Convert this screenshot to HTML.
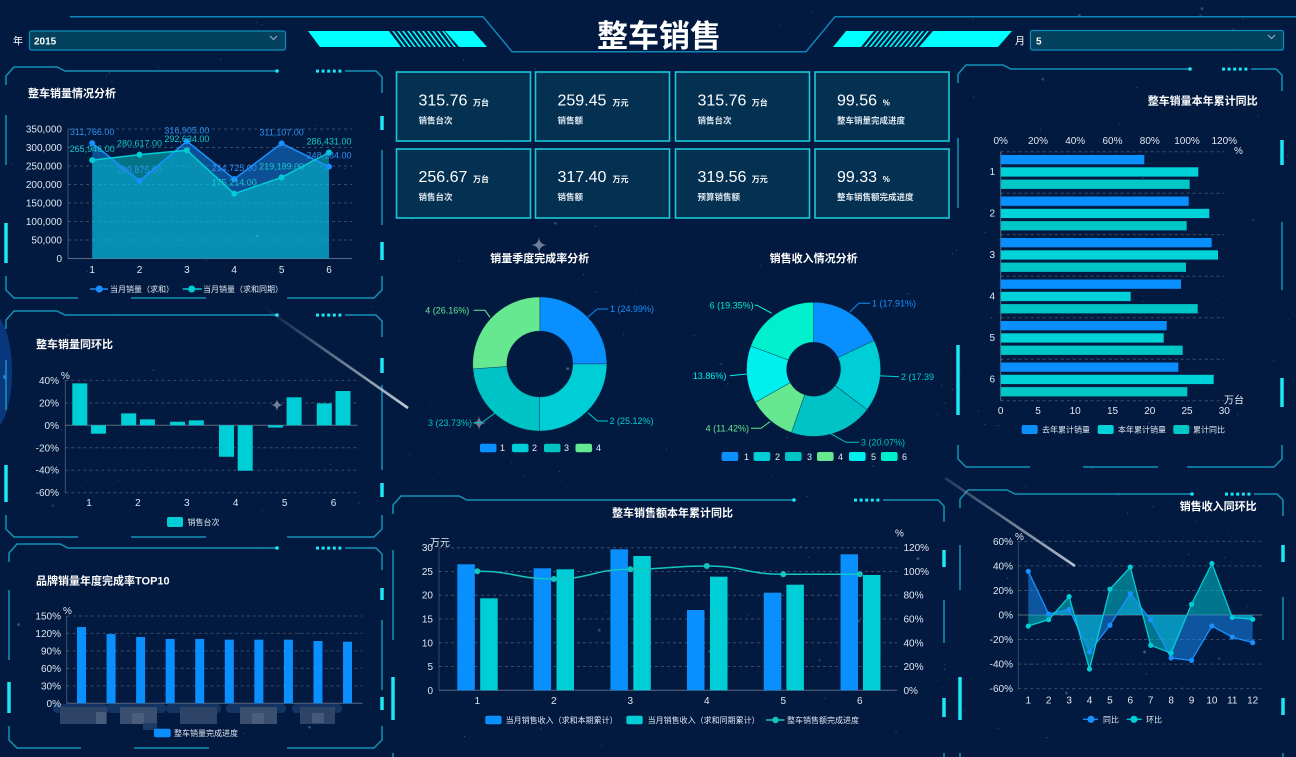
<!DOCTYPE html>
<html><head><meta charset="utf-8">
<style>
html,body{margin:0;padding:0;width:1296px;height:757px;overflow:hidden;background:#021a3f}
svg{display:block}
text{font-family:"Liberation Sans","Noto Sans CJK SC",sans-serif}
.t{fill:#fff;font-weight:bold;font-size:11px}
.ax{fill:#dfe7f1;font-size:10px}
.lg{fill:#dfe7f1;font-size:8px}
.num{fill:#fff;font-size:16px}
.u{fill:#fff;font-size:8px;font-weight:bold}
.kl{fill:#dde6ee;font-size:8.5px;font-weight:bold}
.dl{font-size:9px}
</style></head><body>
<svg id="svg" width="1296" height="757" viewBox="0 0 1296 757" xmlns="http://www.w3.org/2000/svg">
<defs>
<linearGradient id="st1" gradientUnits="userSpaceOnUse" x1="262" y1="306" x2="408" y2="408">
<stop offset="0" stop-color="#dfe6f0" stop-opacity="0"/><stop offset="1" stop-color="#dfe6f0" stop-opacity="0.85"/></linearGradient>
<linearGradient id="st2" gradientUnits="userSpaceOnUse" x1="945" y1="478" x2="1075" y2="566">
<stop offset="0" stop-color="#dfe6f0" stop-opacity="0.15"/><stop offset="1" stop-color="#dfe6f0" stop-opacity="0.8"/></linearGradient>
</defs>
<rect width="1296" height="757" fill="#021a3f"/>
<g id="bg"></g>
<g id="g"></g>
<g id="txt">
<!-- header -->
<text x="659" y="47" text-anchor="middle" font-size="31" font-weight="bold" fill="#fff">整车销售</text>
<text x="13" y="44.5" font-size="10" fill="#fff">年</text>
<text x="34" y="44.5" font-size="10" font-weight="bold" fill="#fff">2015</text>
<text x="1015" y="44.5" font-size="10" fill="#fff">月</text>
<text x="1036" y="44.5" font-size="10" font-weight="bold" fill="#fff">5</text>

<!-- panel titles -->
<text class="t" x="28" y="97">整车销量情况分析</text>
<text class="t" x="36" y="348">整车销量同环比</text>
<text class="t" x="36" y="584.5">品牌销量年度完成率TOP10</text>
<text class="t" x="1257.7" y="104.5" text-anchor="end">整车销量本年累计同比</text>
<text class="t" x="672.5" y="516.5" text-anchor="middle">整车销售额本年累计同比</text>
<text class="t" x="1256.7" y="510" text-anchor="end">销售收入同环比</text>
<text class="t" x="539.8" y="262" text-anchor="middle">销量季度完成率分析</text>
<text class="t" x="813.6" y="262" text-anchor="middle">销售收入情况分析</text>

<!-- chart1 axes -->
<g class="ax" text-anchor="end">
<text x="62" y="132.5">350,000</text><text x="62" y="151">300,000</text><text x="62" y="169.5">250,000</text>
<text x="62" y="188">200,000</text><text x="62" y="206.5">150,000</text><text x="62" y="225">100,000</text>
<text x="62" y="243.5">50,000</text><text x="62" y="262">0</text>
</g>
<g class="ax" text-anchor="middle">
<text x="92.2" y="273">1</text><text x="139.5" y="273">2</text><text x="186.9" y="273">3</text>
<text x="234.2" y="273">4</text><text x="281.6" y="273">5</text><text x="329" y="273">6</text>
</g>
<g class="dl" text-anchor="middle">
<text x="92.2" y="135.2" fill="#2b8ff0">311,766.00</text>
<text x="92.2" y="152.1" fill="#12c8c8">265,946.00</text>
<text x="139.5" y="146.7" fill="#12c8c8">280,617.00</text>
<text x="139.5" y="172.9" fill="#2b8ff0">209,875.00</text>
<text x="186.9" y="133.3" fill="#2b8ff0">316,905.00</text>
<text x="186.9" y="142.2" fill="#12c8c8">292,634.00</text>
<text x="234.2" y="171" fill="#2b8ff0">214,725.00</text>
<text x="234.2" y="185.7" fill="#12c8c8">175,214.00</text>
<text x="281.6" y="135.4" fill="#2b8ff0">311,107.00</text>
<text x="281.6" y="169.4" fill="#12c8c8">219,189.00</text>
<text x="329" y="144.5" fill="#12c8c8">286,431.00</text>
<text x="329" y="158.7" fill="#2b8ff0">248,184.00</text>
</g>
<text class="lg" x="110" y="292">当月销量（求和）</text>
<text class="lg" x="203" y="292">当月销量（求和同期）</text>

<!-- chart2 axes -->
<text class="ax" x="61" y="379" font-size="9">%</text>
<g class="ax" text-anchor="end">
<text x="59" y="383.8">40%</text><text x="59" y="406.3">20%</text><text x="59" y="428.8">0%</text>
<text x="59" y="451.3">-20%</text><text x="59" y="473.7">-40%</text><text x="59" y="496.2">-60%</text>
</g>
<g class="ax" text-anchor="middle">
<text x="89" y="506">1</text><text x="137.9" y="506">2</text><text x="186.8" y="506">3</text>
<text x="235.7" y="506">4</text><text x="284.6" y="506">5</text><text x="333.5" y="506">6</text>
</g>
<text class="lg" x="187.5" y="525">销售台次</text>

<!-- chart3 axes -->
<text class="ax" x="63" y="614" font-size="9">%</text>
<g class="ax" text-anchor="end">
<text x="61" y="619.5">150%</text><text x="61" y="637">120%</text><text x="61" y="654.5">90%</text>
<text x="61" y="671.9">60%</text><text x="61" y="689.4">30%</text><text x="61" y="706.8">0%</text>
</g>
<text class="lg" x="174" y="736">整车销量完成进度</text>

<!-- KPI -->
<text class="num" x="418.5" y="105.5">315.76</text><text class="u" x="473" y="105.5">万台</text><text class="kl" x="418.5" y="123.5">销售台次</text>
<text class="num" x="557.5" y="105.5">259.45</text><text class="u" x="612.5" y="105.5">万元</text><text class="kl" x="557.5" y="123.5">销售额</text>
<text class="num" x="697.5" y="105.5">315.76</text><text class="u" x="751.8" y="105.5">万台</text><text class="kl" x="697.5" y="123.5">销售台次</text>
<text class="num" x="837" y="105.5">99.56</text><text class="u" x="882.7" y="105.5">%</text><text class="kl" x="837" y="123.5">整车销量完成进度</text>
<text class="num" x="418.5" y="182">256.67</text><text class="u" x="473" y="182">万台</text><text class="kl" x="418.5" y="200">销售台次</text>
<text class="num" x="557.5" y="182">317.40</text><text class="u" x="612.5" y="182">万元</text><text class="kl" x="557.5" y="200">销售额</text>
<text class="num" x="697.5" y="182">319.56</text><text class="u" x="751.8" y="182">万元</text><text class="kl" x="697.5" y="200">预算销售额</text>
<text class="num" x="837" y="182">99.33</text><text class="u" x="882.7" y="182">%</text><text class="kl" x="837" y="200">整车销售额完成进度</text>

<!-- donut labels -->
<g class="dl">
<text x="610" y="312" fill="#1890ff">1 (24.99%)</text>
<text x="609.5" y="424" fill="#00ced6">2 (25.12%)</text>
<text x="472" y="426" fill="#00c3c6" text-anchor="end">3 (23.73%)</text>
<text x="469.3" y="313.5" fill="#66e890" text-anchor="end">4 (26.16%)</text>
<text x="872" y="306.5" fill="#1890ff">1 (17.91%)</text>
<text x="901" y="380" fill="#00ced6">2 (17.39</text>
<text x="861" y="445.5" fill="#00c3c6">3 (20.07%)</text>
<text x="749" y="431.5" fill="#66e890" text-anchor="end">4 (11.42%)</text>
<text x="726.4" y="379" fill="#00f0f0" text-anchor="end">13.86%)</text>
<text x="753.6" y="308.5" fill="#00f0cc" text-anchor="end">6 (19.35%)</text>
</g>
<g fill="#e6eef5" font-size="9">
<text x="500" y="451">1</text><text x="532" y="451">2</text><text x="564" y="451">3</text><text x="596" y="451">4</text>
<text x="744" y="460">1</text><text x="775" y="460">2</text><text x="807" y="460">3</text><text x="838" y="460">4</text><text x="871" y="460">5</text><text x="902" y="460">6</text>
</g>

<!-- right top -->
<g class="ax" text-anchor="middle">
<text x="1000.7" y="144">0%</text><text x="1038" y="144">20%</text><text x="1075.2" y="144">40%</text>
<text x="1112.5" y="144">60%</text><text x="1149.8" y="144">80%</text><text x="1187" y="144">100%</text><text x="1224.3" y="144">120%</text>
<text x="1000.7" y="414">0</text><text x="1038" y="414">5</text><text x="1075.2" y="414">10</text>
<text x="1112.5" y="414">15</text><text x="1149.8" y="414">20</text><text x="1187" y="414">25</text><text x="1224.3" y="414">30</text>
</g>
<text class="ax" x="1234" y="154" font-size="9">%</text>
<text class="ax" x="1224" y="403.5" font-size="9">万台</text>
<g class="ax" text-anchor="middle" font-size="11">
<text x="992.3" y="175">1</text><text x="992.3" y="216.5">2</text><text x="992.3" y="258">3</text>
<text x="992.3" y="299.5">4</text><text x="992.3" y="341">5</text><text x="992.3" y="382.5">6</text>
</g>
<text class="lg" x="1042" y="432.5">去年累计销量</text>
<text class="lg" x="1118" y="432.5">本年累计销量</text>
<text class="lg" x="1193" y="432.5">累计同比</text>

<!-- bottom center -->
<text class="ax" x="430" y="546" font-size="8.5">万元</text>
<text class="ax" x="895" y="536.5" font-size="9">%</text>
<g class="ax" text-anchor="end">
<text x="433" y="551.2">30</text><text x="433" y="575">25</text><text x="433" y="598.7">20</text>
<text x="433" y="622.5">15</text><text x="433" y="646.3">10</text><text x="433" y="670">5</text><text x="433" y="693.8">0</text>
</g>
<g class="ax">
<text x="903.5" y="551.2">120%</text><text x="903.5" y="575">100%</text><text x="903.5" y="598.7">80%</text>
<text x="903.5" y="622.5">60%</text><text x="903.5" y="646.3">40%</text><text x="903.5" y="670">20%</text><text x="903.5" y="693.8">0%</text>
</g>
<g class="ax" text-anchor="middle">
<text x="477.3" y="704">1</text><text x="553.8" y="704">2</text><text x="630.3" y="704">3</text>
<text x="706.8" y="704">4</text><text x="783.3" y="704">5</text><text x="859.8" y="704">6</text>
</g>
<text class="lg" x="505.6" y="723">当月销售收入（求和本期累计）</text>
<text class="lg" x="647.6" y="723">当月销售收入（求和同期累计）</text>
<text class="lg" x="787" y="723">整车销售额完成进度</text>

<!-- bottom right -->
<text class="ax" x="1015" y="540" font-size="9">%</text>
<g class="ax" text-anchor="end">
<text x="1013" y="544.9">60%</text><text x="1013" y="569.4">40%</text><text x="1013" y="594">20%</text>
<text x="1013" y="618.5">0%</text><text x="1013" y="643.1">-20%</text><text x="1013" y="667.6">-40%</text><text x="1013" y="692.2">-60%</text>
</g>
<g class="ax" text-anchor="middle">
<text x="1028.3" y="703.5">1</text><text x="1048.7" y="703.5">2</text><text x="1069.1" y="703.5">3</text>
<text x="1089.5" y="703.5">4</text><text x="1109.9" y="703.5">5</text><text x="1130.3" y="703.5">6</text>
<text x="1150.7" y="703.5">7</text><text x="1171.1" y="703.5">8</text><text x="1191.5" y="703.5">9</text>
<text x="1211.9" y="703.5">10</text><text x="1232.3" y="703.5">11</text><text x="1252.7" y="703.5">12</text>
</g>
<text class="lg" x="1103" y="722.3">同比</text>
<text class="lg" x="1146" y="722.3">环比</text>
</g>
</svg>
<script>
(function(){
const NS='http://www.w3.org/2000/svg';
const G=document.getElementById('g'), BG=document.getElementById('bg');
function E(p,t,a){const e=document.createElementNS(NS,t);for(const k in a)e.setAttribute(k,a[k]);p.appendChild(e);return e;}
function L(x1,y1,x2,y2,s,w,da,p){return E(p||G,'line',{x1:x1,y1:y1,x2:x2,y2:y2,stroke:s,'stroke-width':w||1,'stroke-dasharray':da||'none'});}
function R(x,y,w,h,f,p,rx){return E(p||G,'rect',{x:x,y:y,width:w,height:h,fill:f,rx:rx||0});}
function P(d,f,s,w,p,extra){const a={d:d,fill:f||'none',stroke:s||'none','stroke-width':w||1};if(extra)for(const k in extra)a[k]=extra[k];return E(p||G,'path',a);}
function C(cx,cy,r,f,p){return E(p||G,'circle',{cx:cx,cy:cy,r:r,fill:f});}
const GRID='rgba(255,255,255,0.22)', AXL='rgba(255,255,255,0.35)';
const BLUE='#0a8fff',TEAL='#00ced6',TEAL2='#00c3c6',GREEN='#66e890',CYAN='#00f0f0',AQUA='#00f0cc';

// stars
let seed=7;function rnd(){seed=(seed*16807)%2147483647;return seed/2147483647;}
for(let i=0;i<260;i++){C(rnd()*1296,rnd()*757,rnd()<0.9?0.6:1.4,'rgba(140,190,230,'+(0.12+rnd()*0.3).toFixed(2)+')',BG);}
// left glow
E(BG,'ellipse',{cx:-8,cy:372,rx:20,ry:58,fill:'#0a3d8a',opacity:0.85});
C(5,377,2,'#2f7fe0',BG);

// header
P('M70,16.7 L483,16.7 L512,51.7 L806,51.7 L835,16.7 L1296,16.7','none','#0f86b8',1.5);
R(29.5,31,256,19,'#03415e',G,2); E(G,'rect',{x:29.5,y:31,width:256,height:19,rx:2,fill:'none',stroke:'#0d8dc0','stroke-width':1.2});
R(1030.5,30.5,253,19.5,'#03415e',G,2); E(G,'rect',{x:1030.5,y:30.5,width:253,height:19.5,rx:2,fill:'none',stroke:'#0d8dc0','stroke-width':1.2});
P('M270,36 L273.5,39.5 L277,36','none','#9fb3c8',1);
P('M1268,35 L1271.5,38.5 L1275,35','none','#9fb3c8',1);
const CY='#00ffff';
P('M308,31 L389,31 L401,47 L320,47 Z',CY);
for(let k=0;k<11;k++){const x=392+5*k;P(`M${x},31 L${x+2},31 L${x+14},47 L${x+12},47 Z`,CY);}
P('M445,31 L473,31 L487,47 L459,47 Z',CY);
P('M846,31 L874,31 L861,47 L833,47 Z',CY);
for(let k=0;k<11;k++){const x=877+5*k;P(`M${x},31 L${x+2},31 L${x-11},47 L${x-13},47 Z`,CY);}
P('M933,31 L1012,31 L998,47 L919,47 Z',CY);

// frames
function frame(x1,y1,x2,y2,o){
 const c='#1592b6',cb='#1de6f6';
 P(`M${x1},${y1+18} L${x1},${y1+9} L${x1+8},${y1} L${o.a},${y1} L${o.a+8},${y1+4} L${o.d},${y1+4}`,'none',c,1.5);
 C(o.d,y1+4,1.8,cb);
 for(let i=0;i<5;i++) R(o.ds+i*5.6,y1+2.6,3,3,cb);
 P(`M${o.ds+29},${y1+4} L${x2-6},${y1+4} L${x2},${y1+10} L${x2},${y1+26}`,'none',c,1.5);
 (o.lt||[]).forEach(s=>L(x1,s[0],x1,s[1],c,1.5));
 (o.rt||[]).forEach(s=>L(x2,s[0],x2,s[1],c,1.5));
 (o.lb||[]).forEach(s=>L(x1,s[0],x1,s[1],cb,3.5));
 (o.rb||[]).forEach(s=>L(x2,s[0],x2,s[1],cb,3.5));
 P(`M${x1},${y2-22} L${x1},${y2-8} L${x1+8},${y2} L${x1+72},${y2}`,'none',c,1.5);
 L(x1+125,y2,x1+200,y2,c,1.5);
 P(`M${x2-95},${y2} L${x2-8},${y2} L${x2},${y2-8} L${x2},${y2-22}`,'none',c,1.5);
}
frame(6,67,382,298,{a:57,d:277,ds:316,lb:[[223,263]],lt:[[115,165]],rb:[[116,130],[242,260]],rt:[[150,225]]});
frame(6,311,382,537,{a:57,d:277,ds:316,lb:[[465,502]],lt:[[360,410]],rb:[[358,373],[483,497]],rt:[[385,470]]});
frame(9,544,382,748,{a:60,d:277,ds:316,lb:[[682,713]],lt:[[590,660]],rb:[[588,600],[697,710]],rt:[[620,690]]});
frame(958,65,1282,467,{a:1003,d:1190,ds:1222,lb:[[345,415]],lt:[[138,208]],rb:[[140,165],[378,407]],rt:[[222,290]]});
frame(393,496,944,775,{a:459,d:794,ds:854,lb:[[677,720]],lt:[[550,640]],rb:[[550,567],[698,717]],rt:[[600,643]]});
frame(960,490,1283,775,{a:1007,d:1192,ds:1225,lb:[[677,720]],lt:[[545,590]],rb:[[545,562],[698,715]],rt:[[597,640]]});

// streaks & sparkles
L(262,306,408,408,'url(#st1)',2.6);
L(945,478,1075,566,'url(#st2)',2.6);
function spark(x,y,s){P(`M${x-s},${y} Q${x},${y} ${x},${y-s} Q${x},${y} ${x+s},${y} Q${x},${y} ${x},${y+s} Q${x},${y} ${x-s},${y} Z`,'rgba(200,210,225,0.55)');}
spark(539,245,9); spark(479,423,8); spark(277,405,7);

function area(xs,ys,base,fill,op){let d='M'+xs[0]+','+base;xs.forEach((x,i)=>d+=' L'+x+','+ys[i]);d+=' L'+xs[xs.length-1]+','+base+' Z';P(d,fill,null,0,G,{'fill-opacity':op});}
function poly(xs,ys,s,w){let d='';xs.forEach((x,i)=>d+=(i?' L':'M')+x+','+ys[i]);P(d,'none',s,w);}

// chart1
(function(){
 const X=i=>92.2+47.35*i, Y=v=>258.5-v*129.5/350000;
 for(let k=1;k<=7;k++) L(68,Y(k*50000),352,Y(k*50000),GRID,1,'3,3');
 L(68,258.5,352,258.5,AXL,1); L(68,129,68,258.5,'rgba(255,255,255,0.25)',1);
 const A=[311766,209875,316905,214725,311107,248184],B=[265946,280617,292634,175214,219189,286431];
 const xs=A.map((v,i)=>X(i));
 area(xs,A.map(Y),258.5,'#1890ff',0.45);
 area(xs,B.map(Y),258.5,'#00d0d0',0.5);
 poly(xs,A.map(Y),'#1890ff',1.5); poly(xs,B.map(Y),'#00ced6',1.5);
 xs.forEach((x,i)=>{C(x,Y(A[i]),3,'#1890ff');C(x,Y(B[i]),3,'#00ced6');});
 L(90,289,108,289,'#1890ff',1.5); C(99.3,289,3.5,'#1890ff');
 L(182.7,289,201.7,289,'#00ced6',1.5); C(191.7,289,3.5,'#00ced6');
})();

// chart2
(function(){
 const Y=p=>425.3-p*1.124;
 [40,20,-20,-40,-60].forEach(p=>L(65.3,Y(p),357.7,Y(p),GRID,1,'3,3'));
 L(65.3,425.3,357.7,425.3,AXL,1); L(65.3,380,65.3,493,'rgba(255,255,255,0.25)',1);
 const V=[[37.3,-7.5],[10.6,5.3],[3.2,4.4],[-28,-40.4],[-2,24.9],[19.5,30.5]];
 V.forEach((pr,i)=>{pr.forEach((v,j)=>{const x=(j?91:72.3)+i*48.9;const y0=Y(Math.max(v,0)),h=Math.abs(v)*1.124;R(x,y0,15,h,TEAL);});});
 R(167,517,16,10,TEAL,G,2);
})();

// chart3
(function(){
 const Y=p=>703.3-p*0.5822;
 [30,60,90,120,150].forEach(p=>L(66.7,Y(p),362.3,Y(p),GRID,1,'3,3'));
 L(66.7,703.3,362.3,703.3,AXL,1); L(66.7,616,66.7,703.3,'rgba(255,255,255,0.25)',1);
 const V=[131,119,113.8,110.4,110.4,109.3,109.3,109.3,107,105.8];
 V.forEach((v,i)=>{const c=81.5+29.56*i;R(c-4.5,Y(v),9,v*0.5822,BLUE);});
 [[53,704,55,9],[106,704,60,9],[166,704,55,9],[226,704,60,9],[292,704,50,9]].forEach(b=>R(b[0],b[1],b[2],b[3],'#143463',G,4));
 [[60,707,47,17,'#2e4466'],[120,707,37,17,'#3a4f70'],[180,707,37,17,'#2e4466'],[240,707,37,17,'#3a4f70'],[300,707,35,17,'#2e4466'],
  [96,712,10,12,'#475b7a'],[132,713,12,11,'#4a5e7c'],[252,713,12,11,'#4a5e7c'],[312,713,12,10,'#47597a'],[143,723,14,7,'#1e3a66']].forEach(b=>R(b[0],b[1],b[2],b[3],b[4]));
 R(154,728.7,16.7,8.6,BLUE,G,2);
})();

// KPI cards
[396.5,535.5,675.5,815].forEach(x=>{[72,149].forEach(y=>{E(G,'rect',{x:x,y:y,width:134,height:69,fill:'#043052',stroke:'#19c8d8','stroke-width':1.6});});});

// donuts
function arc(cx,cy,r0,r1,a0,a1){
 const rad=a=>(a-90)*Math.PI/180, pt=(r,a)=>[cx+r*Math.cos(rad(a)),cy+r*Math.sin(rad(a))];
 const lg=(a1-a0)>180?1:0;const p0=pt(r1,a0),p1=pt(r1,a1),p2=pt(r0,a1),p3=pt(r0,a0);
 return `M${p0[0]},${p0[1]} A${r1},${r1} 0 ${lg} 1 ${p1[0]},${p1[1]} L${p2[0]},${p2[1]} A${r0},${r0} 0 ${lg} 0 ${p3[0]},${p3[1]} Z`;
}
function donut(cx,cy,r0,r1,vals,cols){let a=0;vals.forEach((v,i)=>{const b=a+v*3.6;P(arc(cx,cy,r0,r1,a,b),cols[i],'rgba(2,40,70,0.6)',0.6);a=b;});}
donut(539.8,364,33,67,[24.99,25.12,23.73,26.16],[BLUE,TEAL,TEAL2,GREEN]);
donut(813.6,369.3,27,67,[17.91,17.39,20.07,11.42,13.86,19.35],[BLUE,TEAL,TEAL2,GREEN,CYAN,AQUA]);
function lead(pts,c){let d='';pts.forEach((p,i)=>d+=(i?' L':'M')+p[0]+','+p[1]);P(d,'none',c,1);}
lead([[588,317],[597.3,309],[608,309]],BLUE);
lead([[588,412.7],[597.3,421],[608,421]],TEAL);
lead([[495.5,412.7],[482,422.5],[474,422.5]],TEAL2);
lead([[490,317.3],[485,310.3],[473.6,310.3]],GREEN);
lead([[850,311.7],[859,303.3],[870,303.3]],BLUE);
lead([[879,375.7],[899,376.7]],TEAL);
lead([[830,433.3],[846,442.3],[859,442.3]],TEAL2);
lead([[770,421.7],[761,428.3],[751,428.3]],GREEN);
lead([[746.4,374],[730,375.7]],CYAN);
lead([[771.8,313.3],[757,305.3],[754.7,305.3]],AQUA);
[[480,BLUE],[512,TEAL],[544,TEAL2],[575.5,GREEN]].forEach(r=>R(r[0],443.7,16.5,8.6,r[1],G,2));
[[721.6,BLUE],[753.6,TEAL],[785,TEAL2],[817,GREEN],[849,CYAN],[881,AQUA]].forEach(r=>R(r[0],452,16.6,9,r[1],G,2));

// right top horizontal bars
(function(){
 for(let k=0;k<7;k++){const y=151.7+41.5*k;L(1000.7,y,1224.3,y,GRID,1,'3,3');}
 L(1000.7,151.7,1000.7,400.7,AXL,1);
 const E_=[[1144.3,1198.3,1189.7],[1188.7,1209.3,1186.7],[1211.7,1218,1186],[1181,1130.7,1197.7],[1166.7,1163.7,1182.7],[1178.3,1213.7,1187.3]];
 const cols=[BLUE,'#00d2da','#00c6c6'];
 E_.forEach((row,i)=>row.forEach((x,j)=>{R(1000.7,155+41.5*i+12.3*j,x-1000.7,9.3,cols[j]);}));
 R(1021.7,425,16,9,BLUE,G,2);R(1097.7,425,16,9,'#00d2da',G,2);R(1173.3,425,16,9,'#00c6c6',G,2);
})();

// bottom center
(function(){
 const Y=v=>690.3-v*142.6/30;
 [5,10,15,20,25,30].forEach(v=>L(439,Y(v),897.3,Y(v),GRID,1,'3,3'));
 L(439,690.3,897.3,690.3,AXL,1); L(439,547.7,439,690.3,'rgba(255,255,255,0.2)',1);
 const bars=[[457.3,564.3,BLUE],[480.2,598.3,TEAL],[533.6,568.3,BLUE],[556.5,569.3,TEAL],[610.4,549.3,BLUE],[633.3,556,TEAL],
  [687,610,BLUE],[710,576.7,TEAL],[763.8,592.7,BLUE],[786.4,584.7,TEAL],[840.5,554.3,BLUE],[863,575,TEAL]];
 bars.forEach(b=>R(b[0],b[1],17.5,690.3-b[1],b[2]));
 const xs=[477.3,553.8,630.3,706.8,783.3,859.8],ys=[571.3,579,569.3,566,574.3,574.3];
 let d='M'+xs[0]+','+ys[0];
 for(let i=1;i<xs.length;i++){const mx=(xs[i-1]+xs[i])/2;d+=` C${mx},${ys[i-1]} ${mx},${ys[i]} ${xs[i]},${ys[i]}`;}
 P(d,'none','#14c6c0',1.5);
 xs.forEach((x,i)=>C(x,ys[i],3,'#14c6c0'));
 R(485.3,715.7,16.3,8.6,BLUE,G,2); R(626.4,715.7,16.3,8.6,TEAL,G,2);
 L(766,720,784.5,720,'#14c6c0',1.5); C(775.5,720,3.2,'#14c6c0');
})();

// bottom right
(function(){
 const Y=p=>615-p*1.2275, X=i=>1028.3+20.4*i;
 [60,40,20,-20,-40,-60].forEach(p=>L(1018.3,Y(p),1262.3,Y(p),GRID,1,'3,3'));
 L(1018.3,615,1262.3,615,AXL,1); L(1018.3,541,1018.3,689,'rgba(255,255,255,0.2)',1);
 const A=[35.6,0.8,4.6,-30,-8.4,17.4,-4,-35,-37,-9,-18,-22.5];
 const B=[-9,-3.8,15,-44,21,39,-24.7,-31,8.7,42,-2,-3.5];
 const xs=A.map((v,i)=>X(i));
 area(xs,A.map(Y),615,'#1890ff',0.5);
 area(xs,B.map(Y),615,'#00d0d8',0.5);
 poly(xs,A.map(Y),'#1890ff',1.3); poly(xs,B.map(Y),'#00ced6',1.3);
 xs.forEach((x,i)=>{C(x,Y(A[i]),2.6,'#1890ff');C(x,Y(B[i]),2.6,'#00ced6');});
 L(1083,719.3,1098,719.3,'#1890ff',1.3); C(1091,719.3,3.6,'#1890ff');
 L(1126.7,719.3,1141.7,719.3,'#00ced6',1.3); C(1134,719.3,3.6,'#00ced6');
})();
})();
</script>
</body></html>
